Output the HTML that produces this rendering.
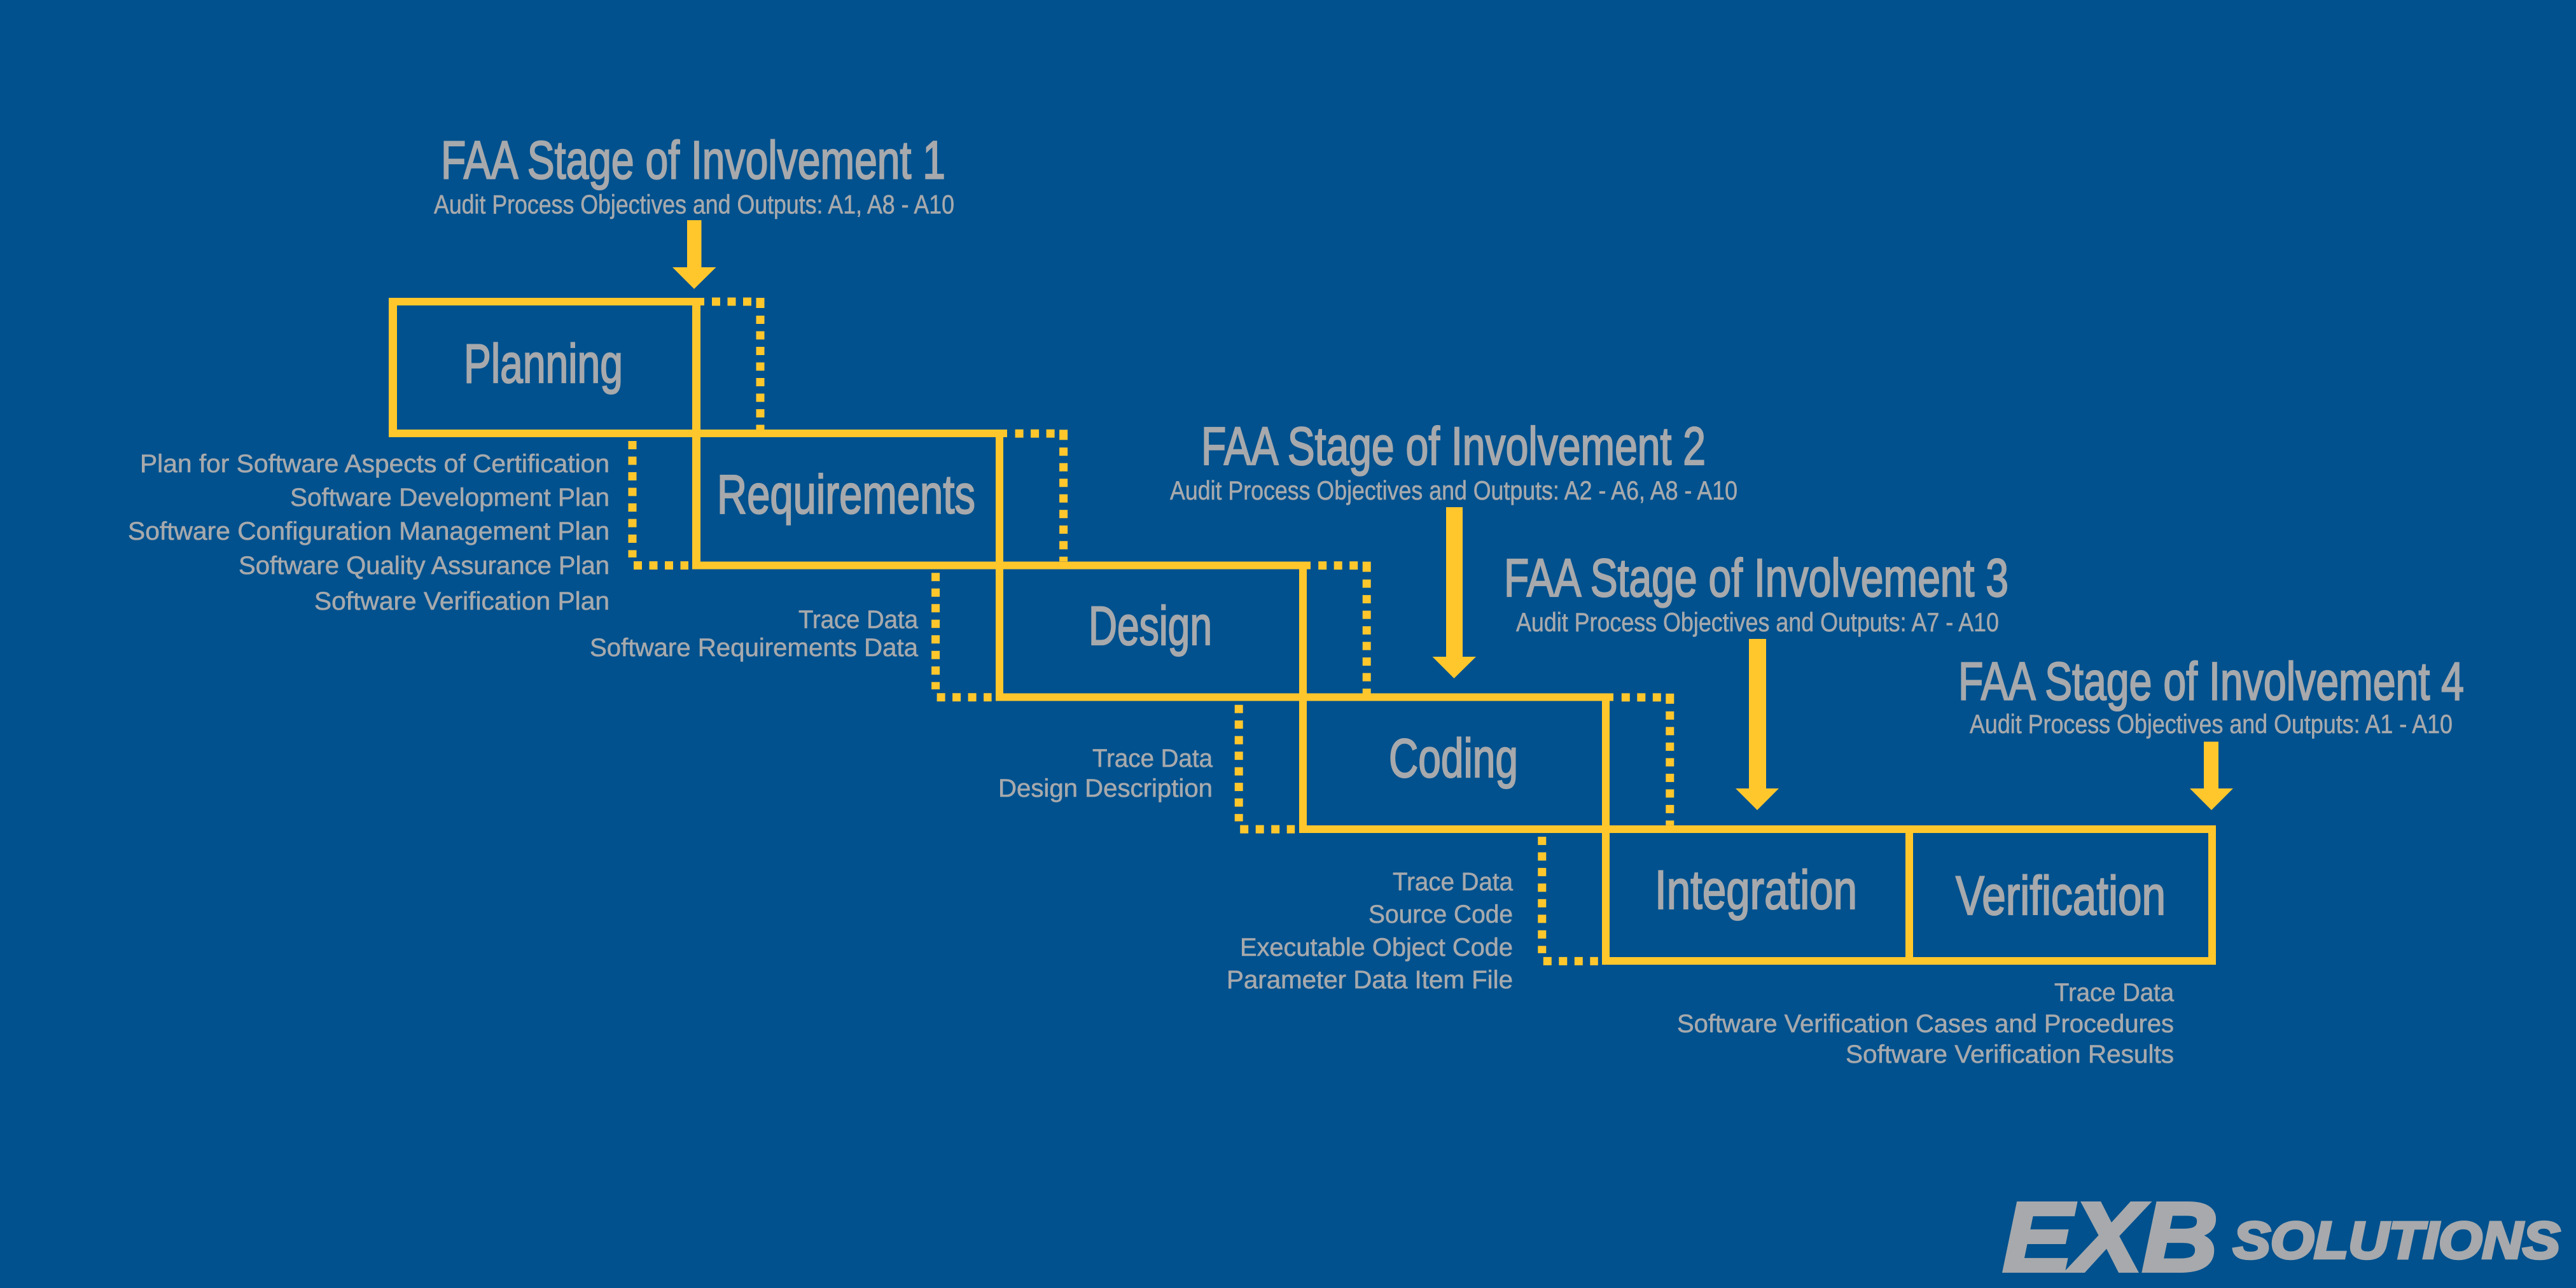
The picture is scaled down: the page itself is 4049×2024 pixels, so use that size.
<!DOCTYPE html>
<html><head><meta charset="utf-8"><style>
html,body{margin:0;padding:0;background:#00518e}
svg{display:block}
text{font-family:"Liberation Sans",sans-serif;fill:#a7a9ac;stroke:#a7a9ac}
.t{font-size:84px;stroke-width:2.2}.s{font-size:42px;stroke-width:.6}.b{font-size:86px;stroke-width:2.2}.l{font-size:40px;stroke-width:.6}
</style></head><body>
<svg xmlns="http://www.w3.org/2000/svg" width="4049" height="2024" viewBox="0 0 4049 2024">
<rect width="4049" height="2024" fill="#00518e"/>
<g fill="#ffc72c">
<rect x="611" y="468" width="496" height="12"/>
<rect x="611" y="675" width="972" height="12"/>
<rect x="1088" y="882.5" width="972" height="12"/>
<rect x="1565" y="1089.5" width="971" height="12"/>
<rect x="2042" y="1297" width="1441" height="12"/>
<rect x="2518" y="1504" width="965" height="12"/>
<rect x="611" y="468" width="13" height="219"/>
<rect x="1088" y="468" width="13" height="426"/>
<rect x="1565" y="675" width="12" height="426"/>
<rect x="2042" y="882.5" width="12" height="426"/>
<rect x="2518" y="1089.5" width="12" height="426"/>
<rect x="2995" y="1297" width="12" height="219"/>
<rect x="3471" y="1297" width="12" height="219"/>
<polygon points="1080,346 1102.5,346 1102.5,420 1125.5,420 1091,454 1057,420 1080,420"/>
<polygon points="2273,797 2299,797 2299,1032 2320,1032 2285.5,1066 2251.5,1032 2273,1032"/>
<polygon points="2749,1004 2776,1004 2776,1239 2796,1239 2762,1273 2728,1239 2749,1239"/>
<polygon points="3464,1165.5 3487,1165.5 3487,1239 3510,1239 3476,1273 3442,1239 3464,1239"/>
</g>
<g fill="none" stroke="#ffc72c" stroke-width="13">
<g>
<path d="M1119 474H1181" stroke-dasharray="13 11.5"/>
<path d="M1195 468V484"/>
<path d="M1195 496V675" stroke-dasharray="13 11.5"/>
<path d="M994 693V876" stroke-dasharray="13 11.5"/>
<path d="M996 888.5H1082" stroke-dasharray="13 11.5"/>
</g>
<g transform="translate(476.6,207.3)">
<path d="M1119 474H1181" stroke-dasharray="13 11.5"/>
<path d="M1195 468V484"/>
<path d="M1195 496V675" stroke-dasharray="13 11.5"/>
<path d="M994 693V876" stroke-dasharray="13 11.5"/>
<path d="M996 888.5H1082" stroke-dasharray="13 11.5"/>
</g>
<g transform="translate(953.2,414.6)">
<path d="M1119 474H1181" stroke-dasharray="13 11.5"/>
<path d="M1195 468V484"/>
<path d="M1195 496V675" stroke-dasharray="13 11.5"/>
<path d="M994 693V876" stroke-dasharray="13 11.5"/>
<path d="M996 888.5H1082" stroke-dasharray="13 11.5"/>
</g>
<g transform="translate(1429.8,621.9)">
<path d="M1119 474H1181" stroke-dasharray="13 11.5"/>
<path d="M1195 468V484"/>
<path d="M1195 496V675" stroke-dasharray="13 11.5"/>
<path d="M994 693V876" stroke-dasharray="13 11.5"/>
<path d="M996 888.5H1082" stroke-dasharray="13 11.5"/>
</g>
</g>
<g>
<text class="t" x="693" y="280.5" textLength="793" lengthAdjust="spacingAndGlyphs">FAA Stage of Involvement 1</text>
<text class="s" x="682" y="335.5" textLength="818" lengthAdjust="spacingAndGlyphs">Audit Process Objectives and Outputs: A1, A8 - A10</text>
<text class="t" x="1888" y="730" textLength="793" lengthAdjust="spacingAndGlyphs">FAA Stage of Involvement 2</text>
<text class="s" x="1839" y="785" textLength="892" lengthAdjust="spacingAndGlyphs">Audit Process Objectives and Outputs: A2 - A6, A8 - A10</text>
<text class="t" x="2364" y="937" textLength="793" lengthAdjust="spacingAndGlyphs">FAA Stage of Involvement 3</text>
<text class="s" x="2383" y="992" textLength="759" lengthAdjust="spacingAndGlyphs">Audit Process Objectives and Outputs: A7 - A10</text>
<text class="t" x="3078" y="1099.5" textLength="795" lengthAdjust="spacingAndGlyphs">FAA Stage of Involvement 4</text>
<text class="s" x="3096" y="1152" textLength="759" lengthAdjust="spacingAndGlyphs">Audit Process Objectives and Outputs: A1 - A10</text>
<text class="b" x="729" y="601" textLength="250" lengthAdjust="spacingAndGlyphs">Planning</text>
<text class="b" x="1127" y="806.5" textLength="406" lengthAdjust="spacingAndGlyphs">Requirements</text>
<text class="b" x="1711" y="1013" textLength="194" lengthAdjust="spacingAndGlyphs">Design</text>
<text class="b" x="2183" y="1221" textLength="203" lengthAdjust="spacingAndGlyphs">Coding</text>
<text class="b" x="2601" y="1428" textLength="318" lengthAdjust="spacingAndGlyphs">Integration</text>
<text class="b" x="3074" y="1437" textLength="330" lengthAdjust="spacingAndGlyphs">Verification</text>
<text class="l" x="220" y="742" textLength="738" lengthAdjust="spacingAndGlyphs">Plan for Software Aspects of Certification</text>
<text class="l" x="456" y="795" textLength="502" lengthAdjust="spacingAndGlyphs">Software Development Plan</text>
<text class="l" x="201" y="848" textLength="757" lengthAdjust="spacingAndGlyphs">Software Configuration Management Plan</text>
<text class="l" x="375" y="902" textLength="583" lengthAdjust="spacingAndGlyphs">Software Quality Assurance Plan</text>
<text class="l" x="494" y="958" textLength="464" lengthAdjust="spacingAndGlyphs">Software Verification Plan</text>
<text class="l" x="1255" y="987" textLength="188" lengthAdjust="spacingAndGlyphs">Trace Data</text>
<text class="l" x="927" y="1031" textLength="516" lengthAdjust="spacingAndGlyphs">Software Requirements Data</text>
<text class="l" x="1717" y="1205" textLength="189" lengthAdjust="spacingAndGlyphs">Trace Data</text>
<text class="l" x="1569" y="1252" textLength="337" lengthAdjust="spacingAndGlyphs">Design Description</text>
<text class="l" x="2189" y="1399" textLength="189" lengthAdjust="spacingAndGlyphs">Trace Data</text>
<text class="l" x="2151" y="1450" textLength="227" lengthAdjust="spacingAndGlyphs">Source Code</text>
<text class="l" x="1949" y="1502" textLength="429" lengthAdjust="spacingAndGlyphs">Executable Object Code</text>
<text class="l" x="1928" y="1553" textLength="450" lengthAdjust="spacingAndGlyphs">Parameter Data Item File</text>
<text class="l" x="3229" y="1573" textLength="188" lengthAdjust="spacingAndGlyphs">Trace Data</text>
<text class="l" x="2636" y="1622" textLength="781" lengthAdjust="spacingAndGlyphs">Software Verification Cases and Procedures</text>
<text class="l" x="2901" y="1670" textLength="516" lengthAdjust="spacingAndGlyphs">Software Verification Results</text>
</g>
<text x="3148" y="1997" font-size="154" font-weight="bold" font-style="italic" textLength="338" lengthAdjust="spacingAndGlyphs" stroke-width="6">EXB</text>
<text x="3510" y="1977" font-size="82" font-weight="bold" font-style="italic" textLength="514" lengthAdjust="spacingAndGlyphs" stroke-width="4.5">SOLUTIONS</text>
</svg>
</body></html>
